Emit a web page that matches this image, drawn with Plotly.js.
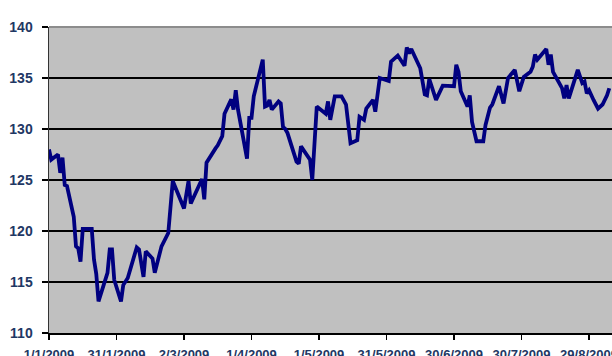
<!DOCTYPE html>
<html>
<head>
<meta charset="utf-8">
<script src="https://cdn.plot.ly/plotly-3.0.1.min.js"></script>
<style>
  html, body { margin: 0; padding: 0; background: #ffffff; overflow: hidden; }
  #chart { width: 612px; height: 356px; }
</style>
</head>
<body>
<div id="chart"></div>
<script>
// Daily index level, January - early September 2009
const dates = [
  '2009-01-01','2009-01-02','2009-01-05','2009-01-06','2009-01-07','2009-01-08','2009-01-09',
  '2009-01-12','2009-01-13','2009-01-14','2009-01-15','2009-01-16','2009-01-20','2009-01-21',
  '2009-01-22','2009-01-23','2009-01-27','2009-01-28','2009-01-29','2009-01-30','2009-02-02',
  '2009-02-03','2009-02-05','2009-02-09','2009-02-10','2009-02-12','2009-02-13','2009-02-16',
  '2009-02-17','2009-02-19','2009-02-20','2009-02-23','2009-02-25','2009-03-02','2009-03-04',
  '2009-03-05','2009-03-09','2009-03-10','2009-03-11','2009-03-12','2009-03-16','2009-03-17',
  '2009-03-19','2009-03-20','2009-03-23','2009-03-24','2009-03-25','2009-03-26','2009-03-30',
  '2009-03-31','2009-04-01','2009-04-02','2009-04-06','2009-04-07','2009-04-08','2009-04-09',
  '2009-04-10','2009-04-13','2009-04-14','2009-04-15','2009-04-16','2009-04-17','2009-04-21',
  '2009-04-22','2009-04-23','2009-04-27','2009-04-28','2009-04-30','2009-05-04','2009-05-05',
  '2009-05-06','2009-05-08','2009-05-11','2009-05-13','2009-05-15','2009-05-18','2009-05-19',
  '2009-05-20','2009-05-21','2009-05-22','2009-05-25','2009-05-26','2009-05-28','2009-06-01',
  '2009-06-02','2009-06-05','2009-06-08','2009-06-09','2009-06-10','2009-06-11','2009-06-15',
  '2009-06-17','2009-06-18','2009-06-19','2009-06-22','2009-06-25','2009-06-29','2009-06-30',
  '2009-07-01','2009-07-02','2009-07-03','2009-07-06','2009-07-07','2009-07-08','2009-07-10',
  '2009-07-13','2009-07-14','2009-07-16','2009-07-17','2009-07-20','2009-07-22','2009-07-24',
  '2009-07-27','2009-07-29','2009-07-31','2009-08-03','2009-08-04','2009-08-05','2009-08-06',
  '2009-08-10','2009-08-11','2009-08-12','2009-08-13','2009-08-17','2009-08-18','2009-08-19',
  '2009-08-20','2009-08-24','2009-08-26','2009-08-27','2009-08-28','2009-08-29','2009-08-31',
  '2009-09-02','2009-09-04','2009-09-06','2009-09-07'
];

const values = [
  128.0, 127.0, 127.5, 125.7, 127.2, 124.5, 124.4,
  121.4, 118.5, 118.3, 117.0, 120.2, 120.2, 117.2,
  115.8, 113.1, 115.9, 118.2, 118.2, 115.2, 113.1,
  114.7, 115.4, 118.4, 118.2, 115.5, 118.0, 117.3,
  115.9, 117.7, 118.5, 119.8, 124.9, 122.2, 124.9,
  122.7, 124.6, 125.1, 123.1, 126.7, 128.1, 128.4,
  129.3, 131.5, 132.9, 131.9, 133.8, 131.9, 127.1,
  131.1, 131.1, 133.2, 136.8, 132.2, 132.3, 132.85,
  131.9, 132.7, 132.5, 130.2, 130.0, 129.6, 126.8,
  126.6, 128.3, 127.0, 125.0, 132.2, 131.5, 132.7,
  130.9, 133.2, 133.2, 132.4, 128.6, 128.9, 131.2,
  131.0, 130.9, 132.0, 132.85, 131.7, 135.0, 134.7,
  136.6, 137.2, 136.2, 138.0, 137.4, 137.85, 135.95,
  133.4, 133.3, 134.9, 132.85, 134.25, 134.2, 134.2,
  136.3, 135.6, 133.7, 132.2, 133.3, 130.7, 128.8,
  128.8, 130.4, 132.1, 132.4, 134.2, 132.5, 135.0,
  135.8, 133.7, 135.1, 135.6, 136.1, 137.3, 136.8,
  137.85, 136.3, 137.3, 135.6, 134.0, 133.0, 134.3,
  133.0, 135.8, 134.5, 134.65, 133.5, 133.8, 132.85,
  132.0, 132.4, 133.3, 134.0
];

// Axis ticks: one every 30 days
const tickDates = ['2009-01-01','2009-01-31','2009-03-02','2009-04-01','2009-05-01',
                   '2009-05-31','2009-06-30','2009-07-30','2009-08-29'];
const tickLabels = ['1/1/2009','31/1/2009','2/3/2009','1/4/2009','1/5/2009',
                    '31/5/2009','30/6/2009','30/7/2009','29/8/2009'];
const yTicks = [110, 115, 120, 125, 130, 135, 140];

const labelFont = { family: 'Liberation Sans, Arial, sans-serif', size: 14, color: '#1f3864', weight: 'bold' };

const trace = {
  x: dates,
  y: values,
  type: 'scatter',
  mode: 'lines',
  line: { color: '#000080', width: 3.8 },
  hoverinfo: 'skip'
};

const layout = {
  width: 612,
  height: 356,
  margin: { l: 49, r: 0, t: 27, b: 23, pad: 0 },
  paper_bgcolor: '#ffffff',
  plot_bgcolor: '#c0c0c0',
  showlegend: false,
  xaxis: {
    type: 'date',
    range: ['2009-01-01', '2009-09-08 05:00'],
    tickvals: tickDates,
    ticktext: tickLabels,
    ticks: 'outside',
    ticklen: 5,
    tickwidth: 1.5,
    tickcolor: '#000000',
    tickfont: { family: 'Liberation Sans, Arial, sans-serif', size: 13, color: '#1f3864', weight: 'bold' },
    ticklabelstandoff: 4,
    ticklabeloverflow: 'allow',
    showgrid: false,
    zeroline: false,
    showline: true,
    linecolor: '#000000',
    linewidth: 1.5,
    fixedrange: true
  },
  yaxis: {
    range: [110, 140],
    tickvals: yTicks,
    ticks: 'outside',
    ticklen: 6,
    tickwidth: 1.5,
    tickcolor: '#000000',
    tickfont: labelFont,
    ticklabelstandoff: 6,
    showgrid: true,
    gridcolor: '#000000',
    gridwidth: 1.2,
    zeroline: false,
    showline: true,
    linecolor: '#333333',
    linewidth: 1.5,
    fixedrange: true
  },
  shapes: [
    {
      type: 'line', xref: 'paper', yref: 'paper',
      x0: 0, x1: 1, y0: 1, y1: 1,
      line: { color: '#8c8c8c', width: 2 },
      layer: 'above'
    }
  ]
};

Plotly.newPlot('chart', [trace], layout, { staticPlot: true, displayModeBar: false });
</script>
</body>
</html>
